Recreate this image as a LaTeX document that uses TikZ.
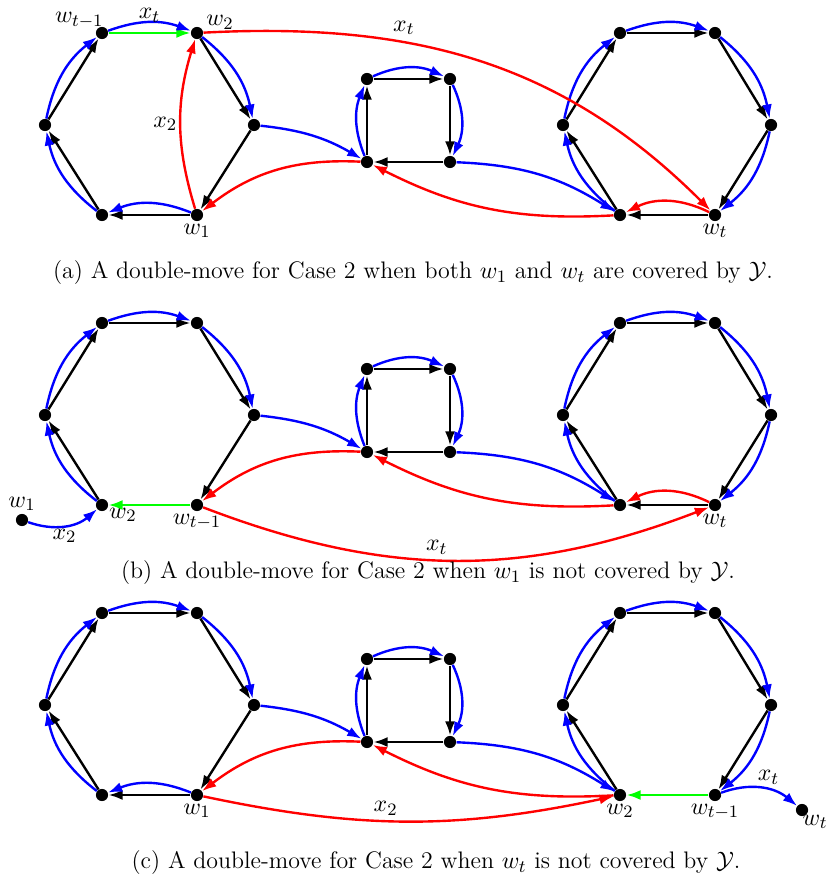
\documentclass[tikz,border=0pt]{standalone}
\usepackage{amsmath,amssymb}
\usepackage{xcolor}
\usepackage{tikz}
\usetikzlibrary{positioning,arrows.meta}

\begin{document}
\begin{tikzpicture}[
    x=0.46pt, y=0.46pt,
    dot/.style={circle, fill=black, inner sep=0pt, minimum size=5.6pt},
    arc/.style={-{Latex[length=6.5pt,width=4.6pt]}, line width=1.1pt},
    blk/.style={arc, black},
    grn/.style={arc, green},
    blu/.style={arc, blue, bend left=20},
    rd/.style={arc, red},
    lbl/.style={font=\fontsize{11}{13}\selectfont, text=black, inner sep=1pt},
    caption/.style={font=\fontsize{11}{13}\selectfont}
]
\useasboundingbox (0,0) rectangle (836,-880);

% ---------- (a) ----------
\node[dot] (al1) at (102,-33) {};
\node[dot] (al2) at (197,-33) {};
\node[dot] (al3) at (254,-125) {};
\node[dot] (al4) at (197,-215) {};
\node[dot] (al5) at (102,-215) {};
\node[dot] (al6) at (45,-125) {};
\node[dot] (as1) at (367,-79) {};
\node[dot] (as2) at (450,-79) {};
\node[dot] (as3) at (450,-162) {};
\node[dot] (as4) at (367,-162) {};
\node[dot] (ar1) at (620,-33) {};
\node[dot] (ar2) at (715,-33) {};
\node[dot] (ar3) at (771,-125) {};
\node[dot] (ar4) at (715,-215) {};
\node[dot] (ar5) at (620,-215) {};
\node[dot] (ar6) at (563,-125) {};
\node[lbl, above left=-1pt and -4pt of al1] {$w_{t-1}$};
\node[lbl, above right=-1.5pt and 1pt of al2] {$w_2$};
\node[lbl, below=0pt of al4] {$w_1$};
\node[lbl, below=0pt of ar4] {$w_t$};
% left hexagon
\draw[grn] (al1) -- (al2);
\draw[blk] (al2) -- (al3);
\draw[blk] (al3) -- (al4);
\draw[blk] (al4) -- (al5);
\draw[blk] (al5) -- (al6);
\draw[blk] (al6) -- (al1);
\draw[blu] (al1) to node[lbl, above=-1.5pt] {$x_t$} (al2);
\draw[blu] (al2) to (al3);
\draw[blu, bend right=22] (al4) to (al5);
\draw[blu] (al5) to (al6);
\draw[blu] (al6) to (al1);
\draw[blu, bend left=12] (al3) to (as4);
% square
\draw[blk] (as1) -- (as2);
\draw[blk] (as2) -- (as3);
\draw[blk] (as3) -- (as4);
\draw[blk] (as4) -- (as1);
\draw[blu, bend left=22] (as4) to (as1);
\draw[blu, bend left=24] (as1) to (as2);
\draw[blu, bend left=25] (as2) to (as3);
\draw[blu, bend left=15] (as3) to (ar5);
% right hexagon
\draw[blk] (ar1) -- (ar2);
\draw[blk] (ar2) -- (ar3);
\draw[blk] (ar3) -- (ar4);
\draw[blk] (ar4) -- (ar5);
\draw[blk] (ar5) -- (ar6);
\draw[blk] (ar6) -- (ar1);
\draw[blu] (ar5) to (ar6);
\draw[blu] (ar6) to (ar1);
\draw[blu] (ar1) to (ar2);
\draw[blu] (ar2) to (ar3);
\draw[blu] (ar3) to (ar4);
% red moves
\draw[rd, bend right=26] (ar4) to (ar5);
\draw[rd, bend left=15] (ar5) to (as4);
\draw[rd, bend right=20] (as4) to (al4);
\draw[rd, bend left=17] (al4) to node[lbl, left=0pt] {$x_2$} (al2);
\draw[rd, out=3, in=135] (al2) to node[lbl, pos=0.35, above=2pt] {$x_t$} (ar4);
\node[caption] (capa) at (413,-273) {(a) A double-move for Case 2 when both $w_1$ and $w_t$ are covered by $\mathcal{Y}$.};

% ---------- (b) ----------
\node[dot] (bl1) at (102,-323) {};
\node[dot] (bl2) at (197,-323) {};
\node[dot] (bl3) at (254,-415) {};
\node[dot] (bl4) at (197,-505) {};
\node[dot] (bl5) at (102,-505) {};
\node[dot] (bl6) at (45,-415) {};
\node[dot] (bs1) at (367,-369) {};
\node[dot] (bs2) at (450,-369) {};
\node[dot] (bs3) at (450,-452) {};
\node[dot] (bs4) at (367,-452) {};
\node[dot] (br1) at (620,-323) {};
\node[dot] (br2) at (715,-323) {};
\node[dot] (br3) at (771,-415) {};
\node[dot] (br4) at (715,-505) {};
\node[dot] (br5) at (620,-505) {};
\node[dot] (br6) at (563,-415) {};
\node[dot] (bw1) at (22,-520) {};
\node[lbl, above=0pt of bw1] {$w_1$};
\node[lbl, below right=-2pt and 0pt of bl5] {$w_2$};
\node[lbl, below=0pt of bl4] {$w_{t-1}$};
\node[lbl, below=0pt of br4] {$w_t$};
% left hexagon
\draw[blk] (bl1) -- (bl2);
\draw[blk] (bl2) -- (bl3);
\draw[blk] (bl3) -- (bl4);
\draw[grn] (bl4) -- (bl5);
\draw[blk] (bl5) -- (bl6);
\draw[blk] (bl6) -- (bl1);
\draw[blu] (bl1) to (bl2);
\draw[blu] (bl2) to (bl3);
\draw[blu] (bl5) to (bl6);
\draw[blu] (bl6) to (bl1);
\draw[blu, bend right=30] (bw1) to node[lbl, below] {$x_2$} (bl5);
\draw[blu, bend left=12] (bl3) to (bs4);
% square
\draw[blk] (bs1) -- (bs2);
\draw[blk] (bs2) -- (bs3);
\draw[blk] (bs3) -- (bs4);
\draw[blk] (bs4) -- (bs1);
\draw[blu, bend left=22] (bs4) to (bs1);
\draw[blu, bend left=24] (bs1) to (bs2);
\draw[blu, bend left=25] (bs2) to (bs3);
\draw[blu, bend left=15] (bs3) to (br5);
% right hexagon
\draw[blk] (br1) -- (br2);
\draw[blk] (br2) -- (br3);
\draw[blk] (br3) -- (br4);
\draw[blk] (br4) -- (br5);
\draw[blk] (br5) -- (br6);
\draw[blk] (br6) -- (br1);
\draw[blu] (br5) to (br6);
\draw[blu] (br6) to (br1);
\draw[blu] (br1) to (br2);
\draw[blu] (br2) to (br3);
\draw[blu] (br3) to (br4);
% red moves
\draw[rd, bend right=26] (br4) to (br5);
\draw[rd, bend left=15] (br5) to (bs4);
\draw[rd, bend right=20] (bs4) to (bl4);
\draw[rd, bend right=21] (bl4) to node[lbl, pos=0.46, above=1pt] {$x_t$} (br4);
\node[caption] (capb) at (428,-573) {(b) A double-move for Case 2 when $w_1$ is not covered by $\mathcal{Y}$.};

% ---------- (c) ----------
\node[dot] (cl1) at (102,-613) {};
\node[dot] (cl2) at (197,-613) {};
\node[dot] (cl3) at (254,-705) {};
\node[dot] (cl4) at (197,-795) {};
\node[dot] (cl5) at (102,-795) {};
\node[dot] (cl6) at (45,-705) {};
\node[dot] (cs1) at (367,-659) {};
\node[dot] (cs2) at (450,-659) {};
\node[dot] (cs3) at (450,-742) {};
\node[dot] (cs4) at (367,-742) {};
\node[dot] (cr1) at (620,-613) {};
\node[dot] (cr2) at (715,-613) {};
\node[dot] (cr3) at (771,-705) {};
\node[dot] (cr4) at (715,-795) {};
\node[dot] (cr5) at (620,-795) {};
\node[dot] (cr6) at (563,-705) {};
\node[dot] (cwt) at (802,-810) {};
\node[lbl, below=0pt of cl4] {$w_1$};
\node[lbl, below=0pt of cr5] {$w_2$};
\node[lbl, below=0pt of cr4] {$w_{t-1}$};
\node[lbl, below right=-1pt and -3pt of cwt] {$w_t$};
% left hexagon
\draw[blk] (cl1) -- (cl2);
\draw[blk] (cl2) -- (cl3);
\draw[blk] (cl3) -- (cl4);
\draw[blk] (cl4) -- (cl5);
\draw[blk] (cl5) -- (cl6);
\draw[blk] (cl6) -- (cl1);
\draw[blu] (cl1) to (cl2);
\draw[blu] (cl2) to (cl3);
\draw[blu, bend right=22] (cl4) to (cl5);
\draw[blu] (cl5) to (cl6);
\draw[blu] (cl6) to (cl1);
\draw[blu, bend left=12] (cl3) to (cs4);
% square
\draw[blk] (cs1) -- (cs2);
\draw[blk] (cs2) -- (cs3);
\draw[blk] (cs3) -- (cs4);
\draw[blk] (cs4) -- (cs1);
\draw[blu, bend left=22] (cs4) to (cs1);
\draw[blu, bend left=24] (cs1) to (cs2);
\draw[blu, bend left=25] (cs2) to (cs3);
\draw[blu, bend left=15] (cs3) to (cr5);
% right hexagon
\draw[blk] (cr1) -- (cr2);
\draw[blk] (cr2) -- (cr3);
\draw[blk] (cr3) -- (cr4);
\draw[grn] (cr4) -- (cr5);
\draw[blk] (cr5) -- (cr6);
\draw[blk] (cr6) -- (cr1);
\draw[blu] (cr5) to (cr6);
\draw[blu] (cr6) to (cr1);
\draw[blu] (cr1) to (cr2);
\draw[blu] (cr2) to (cr3);
\draw[blu] (cr3) to (cr4);
\draw[blu, bend left=30] (cr4) to node[lbl, pos=0.6, above=1pt] {$x_t$} (cwt);
% red moves
\draw[rd, bend left=15] (cr5) to (cs4);
\draw[rd, bend right=20] (cs4) to (cl4);
\draw[rd, bend right=12] (cl4) to node[lbl, pos=0.44, above=1pt] {$x_2$} (cr5);
\node[caption] (capc) at (436,-863) {(c) A double-move for Case 2 when $w_t$ is not covered by $\mathcal{Y}$.};
\end{tikzpicture}
\end{document}
